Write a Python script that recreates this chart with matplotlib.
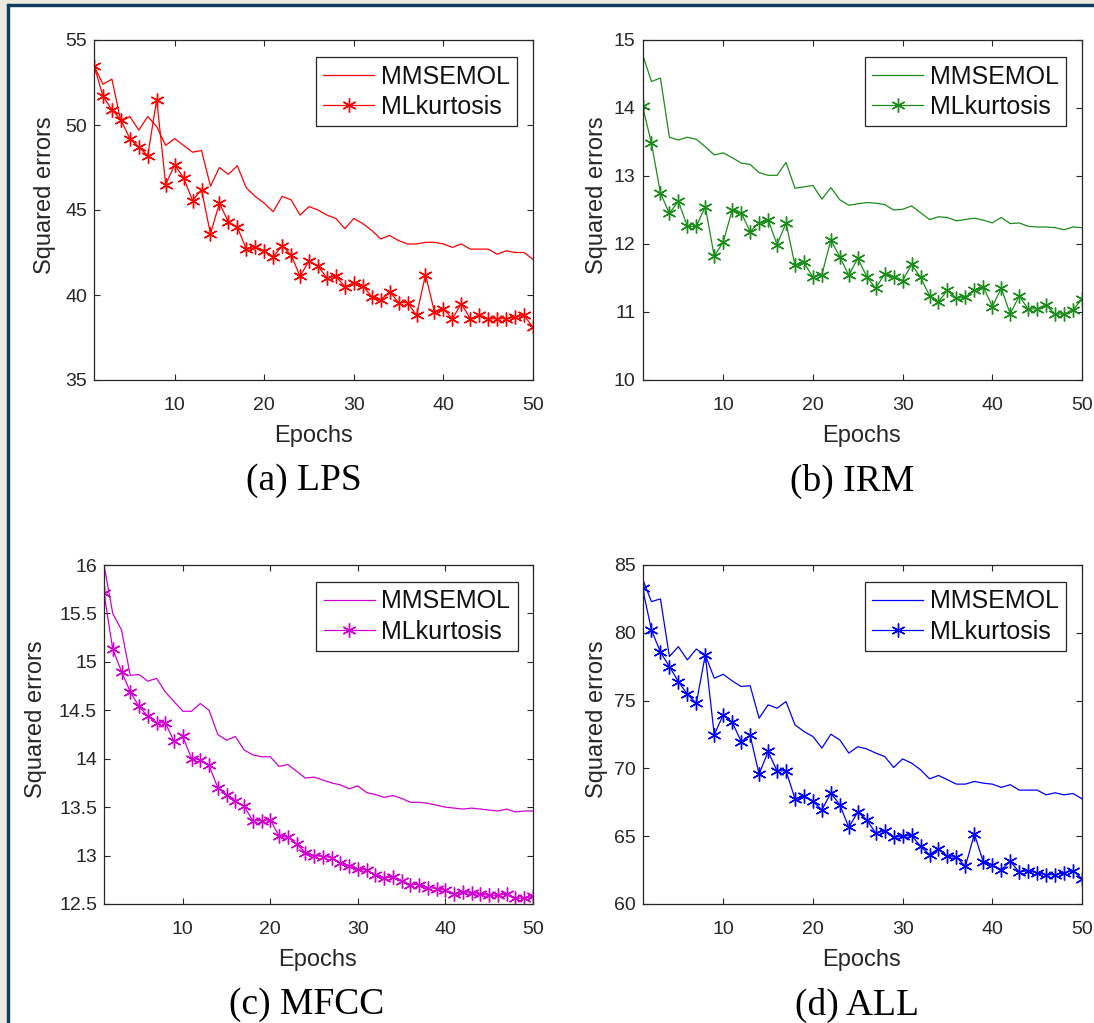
import numpy as np
import matplotlib
matplotlib.use("Agg")
import matplotlib.pyplot as plt
from matplotlib.patches import Rectangle
from matplotlib.ticker import FuncFormatter

plt.rcParams['font.family'] = ['Liberation Sans', 'DejaVu Sans']

epochs = np.arange(1, 51)

# (a) LPS
lps_mmse = [53.5, 52.4, 52.7, 50.2, 50.5, 49.7, 50.5, 49.9, 48.8, 49.2,
            48.8, 48.4, 48.5, 46.4, 47.5, 47.1, 47.6, 46.3, 45.8, 45.4,
            44.9, 45.8, 45.6, 44.7, 45.2, 45.0, 44.7, 44.5, 43.9, 44.5,
            44.2, 43.8, 43.3, 43.5, 43.2, 43.0, 43.0, 43.1, 43.1, 43.0,
            42.8, 43.0, 42.7, 42.7, 42.7, 42.4, 42.6, 42.5, 42.5, 42.1]
lps_kurt = [53.5, 51.7, 50.9, 50.3, 49.2, 48.7, 48.2, 51.5, 46.5, 47.65,
            46.9, 45.55, 46.2, 43.6, 45.4, 44.3, 44.0, 42.7, 42.8, 42.6,
            42.25, 42.9, 42.35, 41.1, 42.0, 41.7, 41.0, 41.1, 40.5, 40.7,
            40.55, 39.9, 39.7, 40.2, 39.55, 39.55, 38.8, 41.2, 39.0, 39.2,
            38.6, 39.5, 38.6, 38.8, 38.6, 38.6, 38.6, 38.7, 38.8, 38.1]

# (b) IRM
irm_mmse = [14.79, 14.39, 14.44, 13.57, 13.53, 13.57, 13.54, 13.43, 13.31, 13.34,
            13.27, 13.19, 13.17, 13.05, 13.01, 13.01, 13.2, 12.82, 12.84, 12.86,
            12.66, 12.83, 12.65, 12.57, 12.59, 12.61, 12.6, 12.58, 12.5, 12.51,
            12.56, 12.46, 12.36, 12.4, 12.39, 12.34, 12.36, 12.38, 12.35, 12.31,
            12.39, 12.3, 12.31, 12.26, 12.25, 12.25, 12.24, 12.21, 12.25, 12.24]
irm_kurt = [14.03, 13.48, 12.75, 12.45, 12.63, 12.26, 12.26, 12.55, 11.82, 12.03,
            12.5, 12.46, 12.18, 12.31, 12.36, 11.99, 12.31, 11.69, 11.73, 11.51,
            11.55, 12.06, 11.81, 11.54, 11.79, 11.52, 11.35, 11.56, 11.52, 11.46,
            11.7, 11.51, 11.24, 11.15, 11.32, 11.2, 11.22, 11.32, 11.37, 11.08,
            11.35, 10.97, 11.24, 11.04, 11.05, 11.1, 10.97, 10.97, 11.03, 11.19]

# (c) MFCC
mfcc_mmse = [16.0, 15.5, 15.33, 14.86, 14.87, 14.8, 14.83, 14.69, 14.59, 14.49,
             14.49, 14.57, 14.5, 14.25, 14.19, 14.23, 14.09, 14.04, 14.02, 14.02,
             13.92, 13.94, 13.87, 13.8, 13.81, 13.78, 13.75, 13.73, 13.69, 13.72,
             13.65, 13.63, 13.6, 13.62, 13.59, 13.55, 13.55, 13.54, 13.52, 13.5,
             13.49, 13.48, 13.49, 13.48, 13.47, 13.46, 13.48, 13.45, 13.46, 13.46]
mfcc_kurt = [15.71, 15.13, 14.9, 14.69, 14.54, 14.44, 14.37, 14.37, 14.18, 14.23,
             14.0, 13.99, 13.93, 13.7, 13.63, 13.56, 13.51, 13.36, 13.36, 13.37,
             13.2, 13.19, 13.12, 13.03, 13.0, 12.99, 12.98, 12.92, 12.89, 12.86,
             12.85, 12.8, 12.77, 12.78, 12.74, 12.7, 12.7, 12.67, 12.66, 12.64,
             12.6, 12.62, 12.61, 12.6, 12.59, 12.59, 12.6, 12.56, 12.56, 12.58]

# (d) ALL
all_mmse = [83.97, 82.3, 82.5, 78.25, 78.98, 78.0, 78.8, 78.37, 76.65, 76.94,
            76.45, 76.04, 76.1, 73.7, 74.69, 74.44, 74.93, 73.21, 72.72, 72.35,
            71.5, 72.52, 72.1, 71.13, 71.6, 71.44, 71.13, 70.88, 70.07, 70.7,
            70.39, 69.9, 69.23, 69.48, 69.16, 68.84, 68.84, 69.04, 68.91, 68.84,
            68.6, 68.8, 68.4, 68.4, 68.4, 68.05, 68.2, 68.05, 68.15, 67.76]
all_kurt = [83.28, 80.21, 78.57, 77.51, 76.4, 75.47, 74.8, 78.37, 72.48, 73.95,
            73.41, 71.98, 72.43, 69.58, 71.25, 69.82, 69.82, 67.76, 67.93, 67.56,
            66.95, 68.18, 67.32, 65.65, 66.78, 66.21, 65.23, 65.4, 64.91, 64.99,
            65.06, 64.25, 63.64, 64.08, 63.51, 63.44, 62.78, 65.16, 63.09, 62.9,
            62.53, 63.14, 62.36, 62.46, 62.29, 62.16, 62.16, 62.29, 62.46, 61.87]

captions = ['(a) LPS', '(b) IRM', '(c) MFCC', '(d) ALL']
series = [(lps_mmse, lps_kurt), (irm_mmse, irm_kurt),
          (mfcc_mmse, mfcc_kurt), (all_mmse, all_kurt)]
colors = ['#ff0000', '#1a8c1a', '#d000d0', '#0000ff']
ylims = [(35, 55), (10, 15), (12.5, 16), (60, 85)]
yticks = [np.arange(35, 56, 5), np.arange(10, 16, 1),
          np.arange(12.5, 16.01, 0.5), np.arange(60, 86, 5)]

W, H = 1094, 1023
fig = plt.figure(figsize=(W / 100, H / 100), dpi=100)
fig.patch.set_facecolor('white')

# screenshot frame
beige = '#ece9df'
navy = '#123c5e'
fig.add_artist(Rectangle((0, 1 - 4 / H), 1, 4 / H, transform=fig.transFigure, color=beige, zorder=0))
fig.add_artist(Rectangle((0, 0), 7 / W, 1, transform=fig.transFigure, color=beige, zorder=0))
fig.add_artist(Rectangle((7 / W, 1 - 6 / H), 1, 2 / H, transform=fig.transFigure, color=navy, zorder=1))
fig.add_artist(Rectangle((7 / W, 0), 2 / W, 1 - 4 / H, transform=fig.transFigure, color=navy, zorder=1))

# axes boxes in pixels: left, top, right, bottom
boxes = [(94, 40, 533, 380), (642.5, 40, 1082, 380),
         (104, 565, 533, 904), (642.5, 565, 1082, 904)]
ylab_x = [45, 597, 36, 597]
cap_x = [304, 852, 307, 857]
ep_x = [313, 862, 318, 862]

dark = '#262626'
for i in range(4):
    l, t, r, b = boxes[i]
    ax = fig.add_axes([l / W, 1 - b / H, (r - l) / W, (b - t) / H])
    c = colors[i]
    mm, ku = series[i]
    ax.plot(epochs, mm, '-', color=c, lw=0.9, label='MMSEMOL')
    ax.plot(epochs, ku, '-', color=c, lw=0.9, marker=(6, 2, 0), ms=10, mew=1.0,
            label='MLkurtosis')
    ax.set_xlim(1, 50)
    ax.set_ylim(*ylims[i])
    ax.set_xticks([10, 20, 30, 40, 50])
    ax.set_yticks(yticks[i])
    ax.yaxis.set_major_formatter(FuncFormatter(lambda v, p: '%g' % v))
    ax.tick_params(direction='in', top=True, right=True, length=4, width=0.8,
                   color=dark, labelcolor=dark, labelsize=14)
    ax.tick_params(axis='x', pad=12)
    ax.tick_params(axis='y', pad=5)
    for s in ax.spines.values():
        s.set_color(dark)
        s.set_linewidth(0.9)
    leg = ax.legend(loc='upper right', bbox_to_anchor=(0.964, 0.95), borderaxespad=0,
                    fontsize=18, handlelength=2.05, handletextpad=0.25,
                    labelspacing=0.25, borderpad=0.3, fancybox=False, framealpha=1)
    leg.get_frame().set_edgecolor(dark)
    leg.get_frame().set_linewidth(0.9)
    for txt in leg.get_texts():
        txt.set_color('#111111')

    ymid = (t + b) / 2 - 15
    fig.text(ylab_x[i] / W, 1 - ymid / H, 'Squared errors', rotation=90,
             ha='center', va='center', fontsize=17, color=dark)
    fig.text(ep_x[i] / W, 1 - (b + 56) / H, 'Epochs', ha='center', va='center',
             fontsize=17, color=dark)
    fig.text(cap_x[i] / W, 1 - (b + 101) / H, captions[i], ha='center', va='center',
             fontsize=27, family=['Liberation Serif', 'DejaVu Serif'], color='black')

fig.savefig('out.png', dpi=100, facecolor=fig.get_facecolor())
